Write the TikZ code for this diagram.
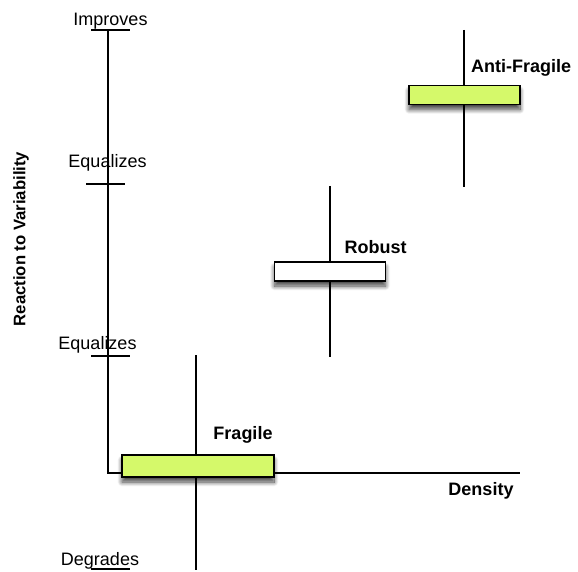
\documentclass[tikz,border=0pt]{standalone}
\usepackage{fontspec}
\setmainfont{Liberation Sans}
\usetikzlibrary{shadows.blur}
\definecolor{lime}{HTML}{D5F96A}
\begin{document}
\begin{tikzpicture}[x=1pt,y=-1pt,
  axis/.style={line width=1.2pt,black},
  tick/.style={line width=1.1pt,black},
  whisker/.style={line width=1.2pt,black},
  bar/.style={draw=black,line width=1.4pt,rectangle,inner sep=0pt,
    blur shadow={shadow xshift=0pt,shadow yshift=-5pt,shadow blur steps=12,shadow opacity=75,shadow blur radius=4.5pt}},
  lbl/.style={font=\fontsize{18}{20}\selectfont,anchor=base,inner sep=0pt},
  blbl/.style={font=\fontsize{18}{20}\selectfont\bfseries,anchor=base,inner sep=0pt}]
\useasboundingbox (0,0) rectangle (578,572);
% axes
\coordinate (ytop) at (108,30);
\coordinate (orig) at (108,473);
\coordinate (xend) at (520,473);
\draw[axis] (ytop) -- (orig) -- (xend);
% ticks
\coordinate (t1a) at (91,30);  \coordinate (t1b) at (130,30);
\coordinate (t2a) at (86,184); \coordinate (t2b) at (125,184);
\coordinate (t3a) at (91,356); \coordinate (t3b) at (130,356);
\coordinate (t4a) at (91,569); \coordinate (t4b) at (130,569);
\draw[tick] (t1a) -- (t1b);
\draw[tick] (t2a) -- (t2b);
\draw[tick] (t3a) -- (t3b);
\draw[tick] (t4a) -- (t4b);
% tick labels
\node[lbl] (improves) at (110.5,26) {Improves};
\node[lbl] (eq1) at (107.5,168) {Equalizes};
\node[lbl] (eq2) at (97.5,349) {Equalizes};
\node[lbl] (degrades) at (100,565) {Degrades};
% axis labels
\node[font=\fontsize{16.7}{18}\selectfont\bfseries,rotate=90,inner sep=0pt] (ylab) at (21,239) {Reaction to Variability};
\node[blbl] (density) at (481,495) {Density};
% whiskers
\coordinate (fa) at (196,355); \coordinate (fb) at (196,570);
\coordinate (ra) at (330,186); \coordinate (rb) at (330,357);
\coordinate (aa) at (464,30);  \coordinate (ab) at (464,187);
\draw[whisker] (fa) -- (fb);
\draw[whisker] (ra) -- (rb);
\draw[whisker] (aa) -- (ab);
% bars
\node[bar,fill=lime,minimum width=152pt,minimum height=22pt] (fragile) at (198,466) {};
\node[bar,fill=white,minimum width=111pt,minimum height=19pt] (robust) at (330,271.5) {};
\node[bar,fill=lime,minimum width=111pt,minimum height=19pt] (anti) at (464.5,95) {};
% labels
\node[blbl] (lfr) at (243,439) {Fragile};
\node[blbl] (lrb) at (375.5,253) {Robust};
\node[blbl,anchor=base west] (lan) at (471,73) {Anti-Fragile};
\end{tikzpicture}
\end{document}
